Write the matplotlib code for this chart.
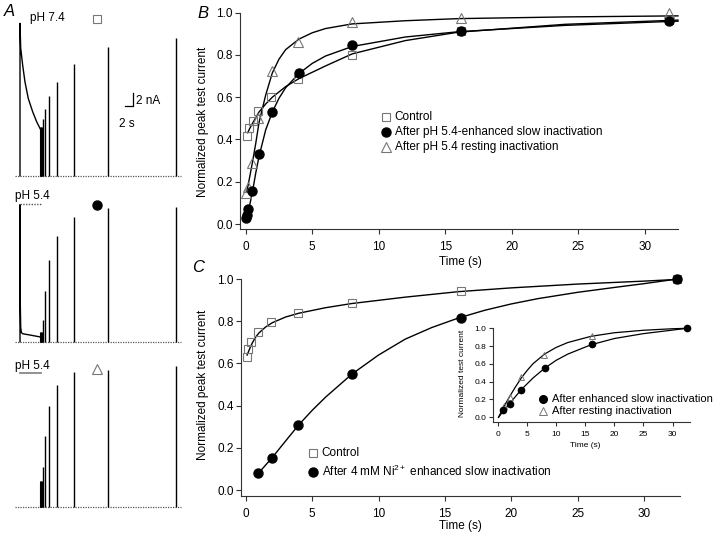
import matplotlib
matplotlib.use("Agg")
import matplotlib.pyplot as plt
from matplotlib.lines import Line2D

plt.rcParams['font.family'] = ['Liberation Sans', 'DejaVu Sans']
plt.rcParams['mathtext.fontset'] = 'custom'
plt.rcParams['mathtext.rm'] = 'Liberation Sans'
plt.rcParams['mathtext.it'] = 'Liberation Sans:italic'

# ---- panel A: raw current traces (s after conditioning step, nA) ----
test_times = [0.1, 0.2, 0.5, 1, 2, 4, 8, 16, 32]
peaks_ph74 = [6.9, 7.3, 8.6, 10.0, 12.0, 14.1, 16.8, 19.3, 20.75]
peaks_slow = [1.2, 1.5, 3.2, 7.6, 12.3, 15.9, 18.8, 20.1, 20.3]
peaks_rest = [3.2, 3.8, 6.0, 10.6, 15.1, 18.3, 20.2, 20.6, 21.2]

cond_start = -4.81
decay_t_ph74 = [-4.81, -4.81, -4.65, -4.18, -3.64, -2.86, -1.82, -0.88, 0.06]
decay_i_ph74 = [0, 22.9, 19.2, 16.6, 14.1, 11.6, 9.6, 8.1, 6.9]
decay_t_slow = [-4.81, -4.81, -4.75, -4.65, -4.5, -4.2, -2.0, 0.06]
decay_i_slow = [0, 20.6, 6.0, 2.2, 1.4, 1.2, 0.95, 0.7]

# ---- panel B: recovery, pH 5.4 ----
t_b = [0.1, 0.27, 0.58, 0.95, 1.9, 3.96, 8.0, 16.2, 31.8]
b_control = [0.418, 0.453, 0.489, 0.535, 0.603, 0.686, 0.80, 0.915, 0.965]
t_b_slow = [0.05, 0.1, 0.2, 0.5, 1, 2, 4, 8, 16.2, 31.8]
b_slow = [0.028, 0.045, 0.07, 0.155, 0.33, 0.53, 0.713, 0.847, 0.913, 0.962]
t_b_rest = [0.02, 0.2, 0.45, 0.95, 1.95, 3.96, 8.0, 16.2, 31.8]
b_rest = [0.148, 0.174, 0.287, 0.5, 0.724, 0.86, 0.954, 0.976, 0.997]

fit_b_control_t = [0.15, 0.3, 0.5, 0.75, 1, 1.5, 2, 3, 4, 6, 8, 12, 16, 24, 32.5]
fit_b_control_v = [0.432, 0.452, 0.475, 0.503, 0.53, 0.568, 0.6, 0.65, 0.688, 0.748, 0.805, 0.868, 0.908, 0.945, 0.965]
fit_b_slow_t = [0.08, 0.2, 0.35, 0.5, 0.75, 1, 1.5, 2, 2.5, 3, 4, 5, 6, 8, 12, 16, 24, 32.5]
fit_b_slow_v = [0.022, 0.06, 0.105, 0.15, 0.24, 0.32, 0.445, 0.53, 0.595, 0.645, 0.712, 0.76, 0.795, 0.84, 0.885, 0.91, 0.94, 0.96]
fit_b_rest_t = [0.08, 0.2, 0.35, 0.5, 0.75, 1, 1.5, 2, 2.5, 3, 4, 5, 6, 8, 12, 16, 24, 32.5]
fit_b_rest_v = [0.15, 0.19, 0.24, 0.29, 0.38, 0.48, 0.61, 0.715, 0.78, 0.825, 0.875, 0.905, 0.925, 0.947, 0.962, 0.972, 0.98, 0.985]

# ---- panel C: recovery, 4 mM Ni2+ ----
t_c = [0.08, 0.17, 0.42, 0.93, 1.93, 3.97, 8.03, 16.2, 32.5]
c_control = [0.629, 0.667, 0.703, 0.748, 0.797, 0.841, 0.885, 0.943, 1.0]
t_c_ni = [0.95, 1.96, 3.97, 8.03, 16.2, 32.5]
c_ni = [0.08, 0.153, 0.309, 0.55, 0.815, 1.0]

fit_c_control_t = [0.1, 0.2, 0.35, 0.5, 0.75, 1, 1.5, 2, 3, 4, 6, 8, 12, 16, 20, 25, 30, 32.5]
fit_c_control_v = [0.64, 0.655, 0.678, 0.698, 0.725, 0.745, 0.773, 0.793, 0.82, 0.838, 0.864, 0.884, 0.914, 0.94, 0.958, 0.976, 0.99, 0.998]
fit_c_ni_t = [0.95, 2, 3, 4, 5, 6, 8, 10, 12, 14, 16, 18, 20, 22, 25, 28, 30, 32.5]
fit_c_ni_v = [0.08, 0.155, 0.233, 0.31, 0.378, 0.44, 0.55, 0.64, 0.715, 0.77, 0.815, 0.852, 0.882, 0.907, 0.937, 0.962, 0.978, 1.0]

# ---- inset: Ni2+ slow vs resting ----
t_in = [0.92, 2.0, 3.98, 8.02, 16.1, 32.5]
in_slow = [0.08, 0.148, 0.31, 0.553, 0.818, 1.0]
t_in_rest = [1.04, 2.08, 4.04, 7.96, 16.16]
in_rest = [0.129, 0.224, 0.45, 0.705, 0.913]

fit_in_slow_t = [0.1, 1, 2, 3, 4, 6, 8, 10, 12, 16, 20, 25, 30, 32.5]
fit_in_slow_v = [0.0, 0.075, 0.152, 0.232, 0.31, 0.44, 0.55, 0.64, 0.71, 0.815, 0.885, 0.94, 0.98, 1.0]
fit_in_rest_t = [0.1, 1, 2, 3, 4, 5, 6, 8, 10, 12, 16, 20, 25, 30, 32.5]
fit_in_rest_v = [0.0, 0.118, 0.232, 0.34, 0.44, 0.525, 0.6, 0.71, 0.785, 0.84, 0.91, 0.95, 0.978, 0.995, 1.0]

W, H = 720, 534
fig = plt.figure(figsize=(W / 100, H / 100), dpi=100)


def fx(px):
    return px / W


def fy(py):
    return 1 - py / H


def box(l, t, r, b):
    return [l / W, 1 - b / H, (r - l) / W, (b - t) / H]


GREY = '#777777'
SQ = dict(marker='s', ms=6, mfc='none', mec=GREY, mew=0.8, ls='none')
CI = dict(marker='o', ms=6.5, mfc='k', mec='k', ls='none')
TR = dict(marker='^', ms=6.5, mfc='none', mec=GREY, mew=0.8, ls='none')


def key(x, y, style, label, fs):
    fig.add_artist(Line2D([fx(x)], [fy(y)], transform=fig.transFigure, **style))
    fig.text(fx(x + 9), fy(y), label, fontsize=fs, va='center', ha='left')


# ---- panel A ----
T0, PX_S, PX_NA = 40.45, 4.25, 6.65


def trace_axes(top, bottom, base):
    ax = fig.add_axes(box(8, top, 185, bottom))
    ax.set_xlim((8 - T0) / PX_S, (185 - T0) / PX_S)
    ax.set_ylim((base - bottom) / PX_NA, (base - top) / PX_NA)
    ax.axis('off')
    ax.axhline(0, xmin=0.04, xmax=0.98, color='#555555', lw=0.9, ls=(0, (1, 1)))
    return ax


a1 = trace_axes(10, 182, 175.7)
a1.plot(decay_t_ph74, decay_i_ph74, color='k', lw=1.0)
a1.vlines(test_times, 0, peaks_ph74, color='k', lw=1.0)
a1.vlines(test_times[:2], 0, peaks_ph74[:2], color='k', lw=2.2)
a1.plot([21.85, 21.85, 19.85], [12.5, 10.5, 10.5], color='k', lw=0.9)
a1.text(22.6, 11.2, '2 nA', fontsize=8.5, va='center', ha='left')
a1.text(20.3, 7.7, '2 s', fontsize=8.5, va='center', ha='center')

a2 = trace_axes(185, 350, 341.7)
a2.plot(decay_t_slow, decay_i_slow, color='k', lw=1.0)
a2.vlines(test_times, 0, peaks_slow, color='k', lw=1.0)
a2.vlines(test_times[:2], 0, peaks_slow[:2], color='k', lw=2.2)
a2.plot([cond_start, 0.06], [20.75, 20.75], color='#555555', lw=1.0, ls=(0, (1, 1)))

a3 = trace_axes(355, 515, 506.7)
a3.vlines(test_times, 0, peaks_rest, color='k', lw=1.0)
a3.vlines(test_times[:2], 0, peaks_rest[:2], color='k', lw=2.2)
a3.plot([cond_start, 0.06], [20.15, 20.15], color='#888888', lw=1.3)

fig.text(fx(30), fy(18), 'pH 7.4', fontsize=8.5, va='center')
fig.text(fx(15), fy(196), 'pH 5.4', fontsize=8.5, va='center')
fig.text(fx(15), fy(366), 'pH 5.4', fontsize=8.5, va='center')
fig.add_artist(Line2D([fx(96.7)], [fy(19)], transform=fig.transFigure, **SQ))
fig.add_artist(Line2D([fx(96.7)], [fy(205)], transform=fig.transFigure, **CI))
fig.add_artist(Line2D([fx(97.3)], [fy(369)], transform=fig.transFigure, **TR))

fig.text(fx(4), fy(11), 'A', fontsize=12, style='italic', va='center')
fig.text(fx(197), fy(13), 'B', fontsize=12, style='italic', va='center')
fig.text(fx(192), fy(268), 'C', fontsize=12, style='italic', va='center')


def style_axes(ax, fs, ticklen, xpad, ypad):
    for s in ['top', 'right']:
        ax.spines[s].set_visible(False)
    for s in ['left', 'bottom']:
        ax.spines[s].set_color('#333333')
        ax.spines[s].set_linewidth(0.8)
    ax.tick_params(direction='out', length=ticklen, width=0.8, color='#333333',
                   labelsize=fs)
    ax.tick_params(axis='x', pad=xpad)
    ax.tick_params(axis='y', pad=ypad)
    ax.set_xticks(range(0, 31, 5))
    ax.set_yticks([0, 0.2, 0.4, 0.6, 0.8, 1.0])
    ax.set_yticklabels(['0.0', '0.2', '0.4', '0.6', '0.8', '1.0'])


# ---- panel B ----
axb = fig.add_axes(box(240, 12.7, 678, 229.3))
style_axes(axb, 8.5, 3.6, 5, 1.5)
axb.set_xlim(-0.43, 32.5)
axb.set_ylim(-0.025, 1.0)
axb.plot(fit_b_control_t, fit_b_control_v, color='k', lw=1.0, clip_on=False)
axb.plot(fit_b_slow_t, fit_b_slow_v, color='k', lw=1.0, clip_on=False)
axb.plot(fit_b_rest_t, fit_b_rest_v, color='k', lw=1.0, clip_on=False)
axb.plot(t_b, b_control, clip_on=False, **SQ)
axb.plot(t_b_rest, b_rest, clip_on=False, **TR)
axb.plot(t_b_slow, b_slow, clip_on=False, **CI)
axb.set_ylabel('Normalized peak test current', fontsize=8.5)
axb.yaxis.set_label_coords(fx(209), fy(122), transform=fig.transFigure)
axb.set_xlabel('Time (s)', fontsize=8.5)
axb.xaxis.set_label_coords(fx(460), fy(256), transform=fig.transFigure)
key(385.7, 117.3, SQ, 'Control', 8.5)
key(385.7, 132.3, CI, 'After pH 5.4-enhanced slow inactivation', 8.5)
key(385.7, 146.7, TR, 'After pH 5.4 resting inactivation', 8.5)

# ---- panel C ----
axc = fig.add_axes(box(240.7, 279, 680, 495.7))
style_axes(axc, 8.5, 3.6, 5, 1.5)
axc.set_xlim(-0.38, 32.7)
axc.set_ylim(-0.026, 1.0)
axc.plot(fit_c_control_t, fit_c_control_v, color='k', lw=1.0, clip_on=False)
axc.plot(fit_c_ni_t, fit_c_ni_v, color='k', lw=1.0, clip_on=False)
axc.plot(t_c, c_control, clip_on=False, **SQ)
axc.plot(t_c_ni, c_ni, clip_on=False, **CI)
axc.set_ylabel('Normalized peak test current', fontsize=8.5)
axc.yaxis.set_label_coords(fx(209), fy(385), transform=fig.transFigure)
axc.set_xlabel('Time (s)', fontsize=8.5)
axc.xaxis.set_label_coords(fx(460), fy(520), transform=fig.transFigure)
key(312.7, 452.7, SQ, 'Control', 8.5)
key(312.7, 471.7, CI, 'After 4 mM Ni$^{2+}$ enhanced slow inactivation', 8.5)

# ---- inset ----
axi = fig.add_axes(box(493, 328.3, 690, 421.7))
axi.patch.set_alpha(0)
style_axes(axi, 6, 3, 3.5, 2)
axi.set_xlim(-0.85, 33.0)
axi.set_ylim(-0.05, 1.0)
axi.plot(fit_in_slow_t, fit_in_slow_v, color='k', lw=0.9, clip_on=False)
axi.plot(fit_in_rest_t, fit_in_rest_v, color='k', lw=0.9, clip_on=False)
axi.plot(t_in_rest, in_rest, clip_on=False, marker='^', ms=4.5, mfc='none', mec=GREY, mew=0.7, ls='none')
axi.plot(t_in, in_slow, clip_on=False, marker='o', ms=4.5, mfc='k', mec='k', ls='none')
axi.set_ylabel('Normalized test current', fontsize=6)
axi.yaxis.set_label_coords(fx(466), fy(373), transform=fig.transFigure)
axi.set_xlabel('Time (s)', fontsize=6)
axi.xaxis.set_label_coords(fx(585), fy(442), transform=fig.transFigure)
key(542.7, 398.7, dict(marker='o', ms=5.5, mfc='k', mec='k', ls='none'),
    'After enhanced slow inactivation', 8)
key(542.7, 410.5, dict(marker='^', ms=5.5, mfc='none', mec=GREY, mew=0.7, ls='none'),
    'After resting inactivation', 8)

fig.savefig('out.png', dpi=100)
